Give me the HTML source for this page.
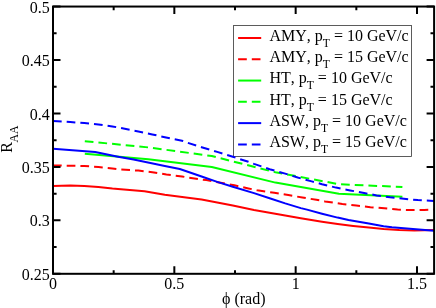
<!DOCTYPE html>
<html lang="en">
<head>
<meta charset="utf-8">
<title>R_AA vs phi</title>
<style>
html,body{margin:0;padding:0;background:#fff;}
body{width:436px;height:308px;overflow:hidden;}
svg{display:block;}
text{font-family:"Liberation Serif","DejaVu Serif",serif;fill:#000;font-kerning:none;}
.t{font-size:16px;}
.s{font-size:11.7px;}
</style>
</head>
<body>
<svg width="436" height="308" viewBox="0 0 436 308">
<rect x="0" y="0" width="436" height="308" fill="#ffffff"/>

<rect x="233.6" y="25.5" width="177.8" height="131.05" fill="#fff" stroke="#333" stroke-width="0.8"/>
<g fill="none" stroke-width="2" stroke-linejoin="round">
<polyline stroke="#ff0000" points="53,185.9 70.3,185.6 84.3,185.9 98.4,187 112.4,188.5 118,188.9 144.5,191.2 164.8,194.8 186,197.4 201.6,199.6 217.2,202.4 232.8,205.6 254,210.1 269.6,212.75 285.2,215.4 300.8,218.2 322,221.65 337.6,223.9 353.2,225.9 368.8,227.6 383.6,229 399.2,230.05 414.3,230.4 434,229.9"/>
<polyline stroke="#ff0000" stroke-dasharray="8.7 5.0" points="53,165.5 60.9,165.6 70.3,165.7 84.3,166 98.4,167 112.4,168.4 121.1,169.5 138.3,170.6 152.3,172.2 166.4,174.5 182,176.4 189.1,177.8 206.3,180.1 234.4,185.3 248.4,188.4 257.1,190.3 274.3,192.8 288.3,195.1 302.4,197.5 316.4,199.8 325.1,201.4 342.3,204 356.3,205.55 370.4,207.15 384.4,208.3 397.6,209.6 410.1,210.1 424.2,209.9 434,209.5"/>
<polyline stroke="#00ff00" points="84.8,153.7 148.3,159.3 211.8,167 275.4,182.6 338.9,193.8 402.4,196.7"/>
<polyline stroke="#00ff00" stroke-dasharray="8.7 5.0" points="84.8,141.2 148.3,147.4 211.8,156 275.4,172.3 338.9,184.2 402.4,187"/>
<polyline stroke="#0000ff" points="53,148.85 95.2,152.1 118,156.7 133.6,159.6 149.2,162.7 164.8,165.9 179.8,169 201.6,176.55 217.2,181.85 232.8,186.8 254,193.1 269.6,198.25 285.2,203.4 300.8,208.1 307,209.65 322,213.7 337.6,217.6 348.5,220 368.8,223.4 383.6,226.3 391.9,227.3 434,230.85"/>
<polyline stroke="#0000ff" stroke-dasharray="8.7 5.0" points="53,121 70.3,122 84.3,123.1 98.4,124.4 112.4,126.4 121.1,128.1 138.3,131.4 152.3,134.4 164.8,137.2 182,140.75 187.6,142.8 201.6,147.2 217.2,151.85 232.8,156.8 248.4,161.8 254,163.9 269.6,169.2 285.2,173.6 297.7,177.5 311.7,181.4 322,184.2 336,187.6 350.1,190.4 364.1,193.05 376.6,195.4 390,197.3 403.9,198.8 417.9,200.1 434,201"/>
</g>
<rect x="53" y="6.55" width="381.1" height="267.25" fill="none" stroke="#000" stroke-width="2"/>
<path d="M53 273.8 v-7.5 M53 6.55 v7.5 M174.335 273.8 v-7.5 M174.335 6.55 v7.5 M295.67 273.8 v-7.5 M295.67 6.55 v7.5 M417.005 273.8 v-7.5 M417.005 6.55 v7.5 M113.667 273.8 v-3.6 M113.667 6.55 v3.6 M235.002 273.8 v-3.6 M235.002 6.55 v3.6 M356.337 273.8 v-3.6 M356.337 6.55 v3.6 M53 273.8 h7.5 M434.1 273.8 h-7.5 M53 220.35 h7.5 M434.1 220.35 h-7.5 M53 166.9 h7.5 M434.1 166.9 h-7.5 M53 113.45 h7.5 M434.1 113.45 h-7.5 M53 60 h7.5 M434.1 60 h-7.5 M53 6.55 h7.5 M434.1 6.55 h-7.5 M53 247.075 h3.6 M434.1 247.075 h-3.6 M53 193.625 h3.6 M434.1 193.625 h-3.6 M53 140.175 h3.6 M434.1 140.175 h-3.6 M53 86.725 h3.6 M434.1 86.725 h-3.6 M53 33.275 h3.6 M434.1 33.275 h-3.6" stroke="#000" stroke-width="2" fill="none"/>
<text class="t" x="49.7" y="279.9" text-anchor="end">0.25</text>
<text class="t" x="49.7" y="226.45" text-anchor="end">0.3</text>
<text class="t" x="49.7" y="173" text-anchor="end">0.35</text>
<text class="t" x="49.7" y="119.55" text-anchor="end">0.4</text>
<text class="t" x="49.7" y="66.1" text-anchor="end">0.45</text>
<text class="t" x="49.7" y="12.65" text-anchor="end">0.5</text>
<text class="t" x="53" y="288.9" text-anchor="middle">0</text>
<text class="t" x="174.335" y="288.9" text-anchor="middle">0.5</text>
<text class="t" x="295.67" y="288.9" text-anchor="middle">1</text>
<text class="t" x="417.005" y="288.9" text-anchor="middle">1.5</text>
<text class="t" x="222" y="303.6">ϕ (rad)</text>
<text class="t" transform="translate(12.1,152.7) rotate(-90)">R<tspan class="s" dx="-0.4" dy="6">AA</tspan></text>
<line x1="238.1" y1="38" x2="261.2" y2="38" stroke="#ff0000" stroke-width="2"/>
<text class="t" x="269.4" y="40.9">AMY, p<tspan class="s" dy="6">T</tspan><tspan dy="-6"> = 10 GeV/c</tspan></text>
<line x1="238.1" y1="59.28" x2="261.2" y2="59.28" stroke="#ff0000" stroke-width="2" stroke-dasharray="8.7 5.0"/>
<text class="t" x="269.4" y="62.18">AMY, p<tspan class="s" dy="6">T</tspan><tspan dy="-6"> = 15 GeV/c</tspan></text>
<line x1="238.1" y1="80.56" x2="261.2" y2="80.56" stroke="#00ff00" stroke-width="2"/>
<text class="t" x="269.4" y="83.46">HT, p<tspan class="s" dy="6">T</tspan><tspan dy="-6"> = 10 GeV/c</tspan></text>
<line x1="238.1" y1="101.84" x2="261.2" y2="101.84" stroke="#00ff00" stroke-width="2" stroke-dasharray="8.7 5.0"/>
<text class="t" x="269.4" y="104.74">HT, p<tspan class="s" dy="6">T</tspan><tspan dy="-6"> = 15 GeV/c</tspan></text>
<line x1="238.1" y1="123.12" x2="261.2" y2="123.12" stroke="#0000ff" stroke-width="2"/>
<text class="t" x="269.4" y="126.02">ASW, p<tspan class="s" dy="6">T</tspan><tspan dy="-6"> = 10 GeV/c</tspan></text>
<line x1="238.1" y1="144.4" x2="261.2" y2="144.4" stroke="#0000ff" stroke-width="2" stroke-dasharray="8.7 5.0"/>
<text class="t" x="269.4" y="147.3">ASW, p<tspan class="s" dy="6">T</tspan><tspan dy="-6"> = 15 GeV/c</tspan></text>
</svg>
</body>
</html>
